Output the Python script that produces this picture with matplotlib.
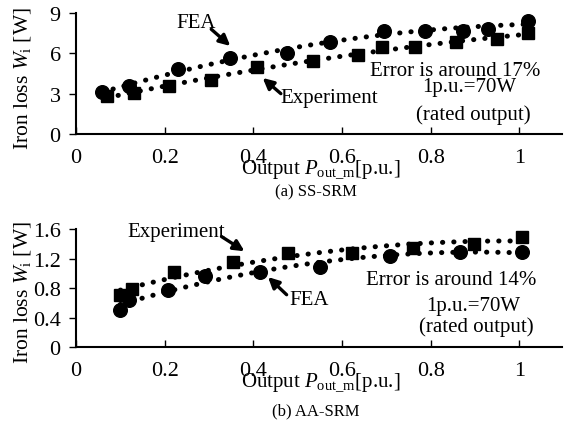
import matplotlib
matplotlib.use("Agg")
import matplotlib.pyplot as plt
import numpy as np

plt.rcParams['font.family'] = ['Liberation Serif', 'DejaVu Serif']
plt.rcParams['mathtext.fontset'] = 'custom'
plt.rcParams['mathtext.rm'] = 'Liberation Serif'
plt.rcParams['mathtext.it'] = 'Liberation Serif:italic'

# (a) SS-SRM
ss_fea_x = [0.059, 0.12, 0.23, 0.347, 0.476, 0.572, 0.694, 0.787, 0.873, 0.93, 1.02]
ss_fea_y = [3.10, 3.55, 4.80, 5.65, 6.05, 6.85, 7.70, 7.70, 7.70, 7.85, 8.40]
ss_exp_x = [0.07, 0.13, 0.21, 0.304, 0.408, 0.534, 0.636, 0.69, 0.765, 0.856, 0.95, 1.02]
ss_exp_y = [2.80, 3.05, 3.60, 4.00, 5.00, 5.45, 5.85, 6.45, 6.45, 6.85, 7.05, 7.55]

# (b) AA-SRM
aa_fea_x = [0.10, 0.12, 0.207, 0.29, 0.416, 0.55, 0.708, 0.867, 1.005]
aa_fea_y = [0.50, 0.64, 0.77, 0.97, 1.02, 1.09, 1.24, 1.29, 1.29]
aa_exp_x = [0.10, 0.126, 0.22, 0.355, 0.477, 0.623, 0.76, 0.897, 1.006]
aa_exp_y = [0.71, 0.79, 1.02, 1.15, 1.27, 1.27, 1.35, 1.40, 1.50]


def trend(x, y):
    """2nd order polynomial trendline through the data points"""
    x = np.asarray(x)
    p = np.polyfit(x, np.asarray(y), 2)
    xs = np.linspace(x.min(), x.max(), 200)
    return xs, np.polyval(p, xs)


def draw_panel(ax, fea_x, fea_y, exp_x, exp_y, ymax, yticks, ytl):
    dot = dict(color='black', linewidth=3.6, linestyle=(0, (0.05, 2.2)),
               dash_capstyle='round')
    xs, ys = trend(fea_x, fea_y)
    ax.plot(xs, ys, **dot)
    xs, ys = trend(exp_x, exp_y)
    ax.plot(xs, ys, **dot)
    ax.plot(fea_x, fea_y, 'o', color='black', markersize=9.8, linestyle='none')
    ax.plot(exp_x, exp_y, 's', color='black', markersize=8.8, linestyle='none')

    ax.set_xlim(0, 1.096)
    ax.set_ylim(0, ymax)
    ax.set_xticks([0, 0.2, 0.4, 0.6, 0.8, 1.0])
    ax.set_xticklabels(['0', '0.2', '0.4', '0.6', '0.8', '1'])
    ax.set_yticks(yticks)
    ax.set_yticklabels(ytl)
    ax.spines['top'].set_visible(False)
    ax.spines['right'].set_visible(False)
    ax.spines['bottom'].set_linewidth(1.5)
    ax.spines['left'].set_linewidth(1.5)
    ax.tick_params(axis='x', direction='in', length=5, width=1, labelsize=16, pad=10)
    ax.tick_params(axis='y', direction='out', length=5, width=1, labelsize=16, pad=6)
    ax.set_ylabel('Iron loss $W_{\\rm i}$ [W]', fontsize=15.5)
    ax.yaxis.set_label_coords(-0.088, 0.47)
    ax.text(0.504, -0.29, 'Output $P_{\\rm out\\_m}$[p.u.]', fontsize=15,
            ha='center', va='center', transform=ax.transAxes)


fig = plt.figure(figsize=(5.69, 4.27), dpi=100)
ax1 = fig.add_axes([0.1336, 0.684, 0.854, 0.283])
ax2 = fig.add_axes([0.1336, 0.185, 0.854, 0.276])

draw_panel(ax1, ss_fea_x, ss_fea_y, ss_exp_x, ss_exp_y, 9,
           [0, 3, 6, 9], ['0', '3', '6', '9'])
draw_panel(ax2, aa_fea_x, aa_fea_y, aa_exp_x, aa_exp_y, 1.6,
           [0, 0.4, 0.8, 1.2, 1.6], ['0', '0.4', '0.8', '1.2', '1.6'])

arrow = dict(arrowstyle='-|>', color='black', lw=2.4, mutation_scale=16,
             shrinkA=0, shrinkB=0)

# top panel annotations
ax1.annotate('', xy=(0.348, 6.55), xytext=(0.305, 7.8), arrowprops=arrow)
ax1.text(0.27, 8.3, 'FEA', fontsize=15, ha='center', va='center')
ax1.annotate('', xy=(0.421, 4.17), xytext=(0.462, 3.0), arrowprops=arrow)
ax1.text(0.572, 2.68, 'Experiment', fontsize=15, ha='center', va='center')
ax1.text(0.856, 4.75, 'Error is around 17%', fontsize=15, ha='center', va='center')
ax1.text(0.886, 3.55, '1p.u.=70W', fontsize=15, ha='center', va='center')
ax1.text(0.895, 1.49, '(rated output)', fontsize=15, ha='center', va='center')

# bottom panel annotations
ax2.annotate('', xy=(0.380, 1.30), xytext=(0.328, 1.50), arrowprops=arrow)
ax2.text(0.226, 1.57, 'Experiment', fontsize=15, ha='center', va='center')
ax2.annotate('', xy=(0.433, 0.95), xytext=(0.475, 0.71), arrowprops=arrow)
ax2.text(0.526, 0.64, 'FEA', fontsize=15, ha='center', va='center')
ax2.text(0.846, 0.92, 'Error is around 14%', fontsize=15, ha='center', va='center')
ax2.text(0.895, 0.57, '1p.u.=70W', fontsize=15, ha='center', va='center')
ax2.text(0.903, 0.285, '(rated output)', fontsize=15, ha='center', va='center')

fig.text(0.555, 1 - 192 / 427, '(a) SS-SRM', fontsize=12, ha='center', va='center')
fig.text(0.555, 1 - 411 / 427, '(b) AA-SRM', fontsize=12, ha='center', va='center')

fig.savefig('out.png', dpi=100)
